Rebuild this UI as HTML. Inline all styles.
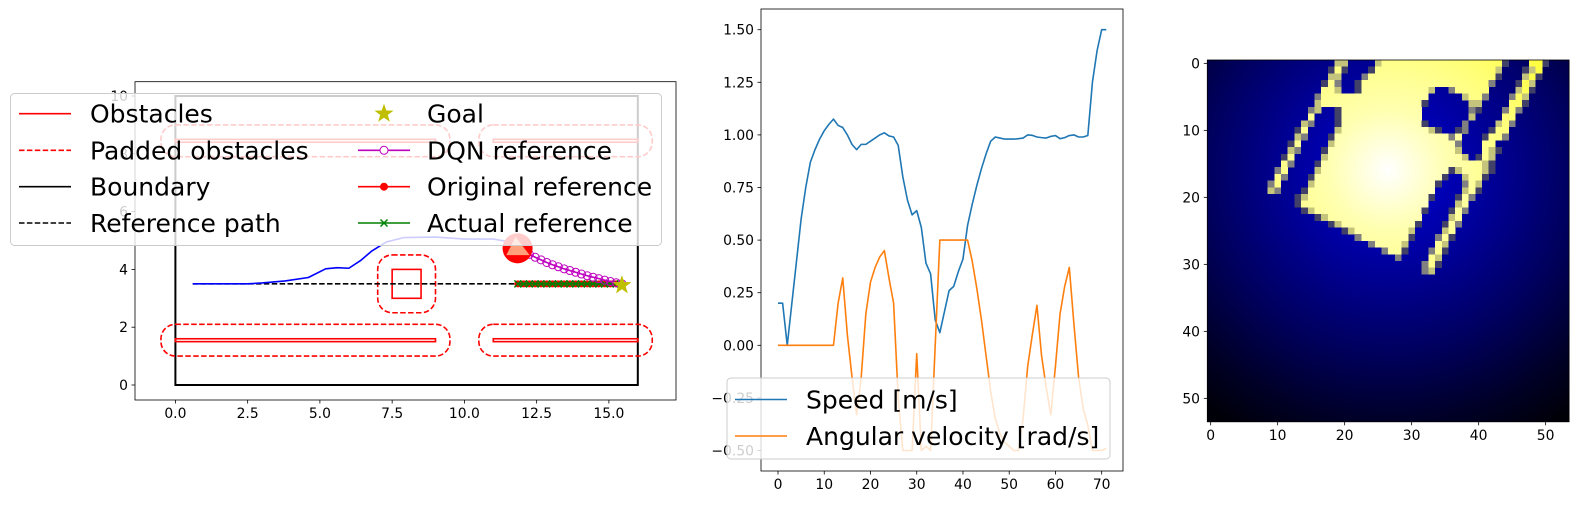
<!DOCTYPE html>
<html><head><meta charset="utf-8">
<style>
html,body{margin:0;padding:0;background:#fff;}
svg{display:block;font-family:"DejaVu Sans","Liberation Sans",sans-serif;}
</style></head>
<body>
<svg id="fig" width="1577" height="505" viewBox="0 0 1577 505" xmlns="http://www.w3.org/2000/svg">
<defs>
<radialGradient id="bgGrad" gradientUnits="userSpaceOnUse" cx="1390" cy="170" r="300">
<stop offset="0" stop-color="#0000d8"/>
<stop offset="0.3" stop-color="#0000a0"/>
<stop offset="0.6" stop-color="#000060"/>
<stop offset="0.85" stop-color="#000025"/>
<stop offset="1" stop-color="#000008"/>
</radialGradient>
<radialGradient id="yGrad" gradientUnits="userSpaceOnUse" cx="1388" cy="170" r="200">
<stop offset="0" stop-color="#ffffff"/>
<stop offset="0.3" stop-color="#ffffb0"/>
<stop offset="0.7" stop-color="#ffff70"/>
<stop offset="1" stop-color="#ffff30"/>
</radialGradient>
<clipPath id="clip1"><rect x="135" y="81.7" width="541" height="318.3"/></clipPath>
</defs>
</svg>
<script>
// ---------- DATA: panel 1 (map) ----------
const obstacleX=[0,11,0,11,7.5];
const obstacleY=[1.5,1.5,8.4,8.4,3];
const obstacleW=[9,5,9,5,1];
const obstacleH=[0.1,0.1,0.1,0.1,1];
const padAmount=0.5;
const pathX=[0.6,2.5,3.0,3.8,4.6,5.2,5.6,6.0,6.4,6.8,7.3,7.9,9.0,10.0,11.0,11.6];
const pathY=[3.5,3.5,3.53,3.6,3.72,4.02,4.06,4.04,4.3,4.64,4.95,5.1,5.12,5.05,5.05,4.95];
const refPathX=[0.6,15.5];
const refPathY=[3.5,3.5];
const robotX=11.84, robotY=4.73, robotR=0.52;
const dqnX=[12.25,12.45,12.65,12.85,13.05,13.25,13.45,13.65,13.85,14.05,14.25,14.45,14.65,14.85,15.05,15.25,15.45];
const dqnY=[4.52,4.42,4.33,4.24,4.16,4.09,4.02,3.96,3.9,3.84,3.78,3.73,3.68,3.63,3.58,3.54,3.5];
const actX=[11.85,12.05,12.25,12.45,12.65,12.85,13.05,13.25,13.45,13.65,13.85,14.05,14.25,14.45,14.65,14.85,15.05,15.25,15.4];
const actY=[3.5,3.5,3.5,3.5,3.5,3.5,3.5,3.5,3.5,3.5,3.5,3.5,3.5,3.5,3.5,3.5,3.5,3.5,3.5];
const goalX=15.45, goalY=3.45;
const p1XTicks=[0,2.5,5,7.5,10,12.5,15];
const p1XLabels=["0.0","2.5","5.0","7.5","10.0","12.5","15.0"];
const p1YTicks=[0,2,4,6,8,10];
// ---------- DATA: panel 2 ----------
const steps=[];for(let i=0;i<=71;i++)steps.push(i);
const speed=[0.2,0.2,0.0,0.2,0.4,0.6,0.75,0.87,0.93,0.98,1.02,1.05,1.075,1.045,1.035,1.0,0.955,0.93,0.955,0.955,0.97,0.985,1.0,1.01,0.995,0.99,0.95,0.8,0.69,0.62,0.64,0.56,0.39,0.34,0.12,0.06,0.16,0.26,0.28,0.35,0.41,0.57,0.67,0.76,0.84,0.91,0.97,0.99,0.985,0.98,0.98,0.98,0.982,0.985,1.0,0.998,0.99,0.987,0.985,0.993,0.997,0.982,0.987,0.997,1.0,0.99,0.99,0.997,1.25,1.4,1.5,1.5];
const angVel=[0,0,0,0,0,0,0,0,0,0,0,0,0,0.2,0.32,0.05,-0.15,-0.33,-0.15,0.15,0.3,0.37,0.42,0.45,0.32,0.2,-0.25,-0.5,-0.5,-0.5,-0.04,-0.5,-0.48,-0.5,0.0,0.5,0.5,0.5,0.5,0.5,0.5,0.5,0.4,0.27,0.12,-0.05,-0.22,-0.35,-0.42,-0.46,-0.48,-0.5,-0.5,-0.35,-0.1,0.05,0.19,-0.05,-0.2,-0.33,-0.1,0.15,0.28,0.37,0.1,-0.15,-0.3,-0.38,-0.5,-0.5,-0.5,-0.49];
const p2XTicks=[0,10,20,30,40,50,60,70];
const p2YTicks=[-0.5,-0.25,0,0.25,0.5,0.75,1.0,1.25,1.5];
const p2YLabels=["\u22120.50","\u22120.25","0.00","0.25","0.50","0.75","1.00","1.25","1.50"];
// ---------- DATA: panel 3 (heatmap runs: row -> "cols type") ----------
const heatRows=[
"19-20k 25k 26-43Y 44d 48-49Y 50d",
"18d 19Y 20d 24d 25-42Y 43k 47d 48k 49Y",
"18-19k 23g 24-42Y 43d 47k 48Y 49d",
"17d 18Y 19g 22d 23-41Y 42g 46d 47Y 48k",
"17-18Y 19k 22d 23-32Y 33k 36g 37-41Y 46k 47Y 48d",
"16g 17-32Y 38k 39-40Y 41g 45g 46Y 47k",
"16k 17-31Y 32d 39-40k 45-46Y 47d",
"15g 16k 19d 20-31Y 39g 40d 44g 45Y 46g",
"15Y 19d 20-31Y 39k 44-45Y",
"14k 15g 19d 20-31Y 32d 38g 43k 44Y 45g",
"13d 14Y 19k 20-32Y 33k 34d 37d 38g 42d 43-44Y",
"13k 14g 18d 19-35Y 36g 37Y 41d 42-43Y 44g",
"12d 13Y 18k 19-36Y 37g 41-42Y",
"12k 13g 17d 18-36Y 37k 41Y 42k 43d",
"11d 12Y 17k 18-37Y 38k 40d 41Y 42k",
"11Y 12g 16d 17-40Y 41k 42d",
"10g 11Y 16k 17-35Y 36d 37k 38-40Y 41k 42d",
"10Y 11g 15d 16-34Y 35d 38k 39-40Y 41d",
"9g 10Y 15k 16-33Y 34d 38g 39Y 40k",
"9k 10g 14d 15-33Y 38k 39Y 40d",
"13d 14k 15-32Y 33d 37d 38Y 39g",
"13d 14-32Y 37k 38Y",
"14d 15k 16-31Y 32d 36d 37Y 38g",
"16d 17k 18-31Y 36k 37Y",
"18d 19k 20-30Y 31d 35d 36Y 37g",
"20d 21k 22-29Y 30k 35k 36Y",
"22g 23-29Y 30d 34g 35Y 36d",
"24g 25-28Y 29k 34Y 35k",
"26g 27-28Y 29d 33g 34Y 35d",
"28g 33Y 34k",
"32g 33Y 34d",
"32g 33k"
];
const p3Ticks=[0,10,20,30,40,50];
</script>
<script>
const NS='http://www.w3.org/2000/svg';
const svg=document.getElementById('fig');
function mk(tag,attrs,parent){const e=document.createElementNS(NS,tag);for(const k in attrs)e.setAttribute(k,attrs[k]);(parent||svg).appendChild(e);return e;}
const TF=13.9;

// ===== Panel 1 =====
const X1=v=>175.4+28.9*v, Y1=v=>385-28.9*v, S1=v=>28.9*v;
const g1=mk('g',{});


const p1=mk('g',{'clip-path':'url(#clip1)'},g1);


let e=mk('rect',{x:X1(0),y:Y1(10),width:S1(16),height:S1(10),fill:'none',stroke:'#000','stroke-width':2},p1);


for(let i=0;i<obstacleX.length;i++){
  e=mk('rect',{x:X1(obstacleX[i]-padAmount),y:Y1(obstacleY[i]+obstacleH[i]+padAmount),width:S1(obstacleW[i]+2*padAmount),height:S1(obstacleH[i]+2*padAmount),rx:S1(padAmount),fill:'none',stroke:'#ff0000','stroke-width':1.6,'stroke-dasharray':'5.5,2.4'},p1);
  
  
  e=mk('rect',{x:X1(obstacleX[i]),y:Y1(obstacleY[i]+obstacleH[i]),width:S1(obstacleW[i]),height:S1(obstacleH[i]),fill:'none',stroke:'#ff0000','stroke-width':1.6},p1);
  
  
}
e=mk('line',{x1:X1(refPathX[0]),y1:Y1(refPathY[0]),x2:X1(refPathX[1]),y2:Y1(refPathY[1]),stroke:'#000','stroke-width':1.6,'stroke-dasharray':'5.5,2.4'},p1);


let d='';for(let i=0;i<pathX.length;i++)d+=(i?'L':'M')+X1(pathX[i])+','+Y1(pathY[i]);
e=mk('path',{d:d,fill:'none',stroke:'#0000ff','stroke-width':1.6,'stroke-linejoin':'round'},p1);


d='';for(let i=0;i<actX.length;i++)d+=(i?'L':'M')+X1(actX[i])+','+Y1(actY[i]);
e=mk('path',{d:d,fill:'none',stroke:'#ff0000','stroke-width':1.6},p1);


for(let i=0;i<actX.length;i++){
  e=mk('circle',{cx:X1(actX[i]),cy:Y1(actY[i]),r:3.5,fill:'#ff0000'},p1);
  
  
}
for(let i=0;i<actX.length;i++){
  const cx=X1(actX[i]),cy=Y1(actY[i]);
  e=mk('path',{d:`M${cx-3.5},${cy-3.5}L${cx+3.5},${cy+3.5}M${cx-3.5},${cy+3.5}L${cx+3.5},${cy-3.5}`,stroke:'#008000','stroke-width':1.5},p1);
  
  
}
d='';for(let i=0;i<actX.length;i++)d+=(i?'L':'M')+X1(actX[i])+','+Y1(actY[i]);
e=mk('path',{d:d,fill:'none',stroke:'#008000','stroke-width':1.6},p1);


d='';for(let i=0;i<dqnX.length;i++)d+=(i?'L':'M')+X1(dqnX[i])+','+Y1(dqnY[i]);
e=mk('path',{d:d,fill:'none',stroke:'#bf00bf','stroke-width':1.6},p1);


for(let i=0;i<dqnX.length;i++){
  e=mk('circle',{cx:X1(dqnX[i]),cy:Y1(dqnY[i]),r:4,fill:'none',stroke:'#bf00bf','stroke-width':1},p1);
  
  
}
function starPath(cx,cy,R){let s='';for(let k=0;k<10;k++){const r=k%2?R*0.4:R;const a=-Math.PI/2+k*Math.PI/5;s+=(k?'L':'M')+(cx+r*Math.cos(a)).toFixed(2)+','+(cy+r*Math.sin(a)).toFixed(2);}return s+'Z';}
e=mk('path',{d:starPath(X1(goalX),Y1(goalY),10),fill:'#bfbf00'},p1);


e=mk('circle',{cx:X1(robotX),cy:Y1(robotY),r:S1(robotR),fill:'#ff0000'},p1);


{const cx=X1(robotX),cy=Y1(robotY),r=S1(robotR);
e=mk('path',{d:`M${cx-2},${cy-r*0.75}L${cx+r*0.8},${cy+r*0.45}L${cx-r*0.75},${cy+r*0.45}Z`,fill:'#ffa07a'},p1);

}
e=mk('rect',{x:135,y:81.7,width:541,height:318.3,fill:'none',stroke:'#000','stroke-width':0.8},g1);


for(let i=0;i<p1XTicks.length;i++){
  const x=X1(p1XTicks[i]);
  e=mk('line',{x1:x,y1:400,x2:x,y2:403.5,stroke:'#000','stroke-width':0.8},g1);
  
  
  e=mk('text',{x:x,y:418,'font-size':TF,'text-anchor':'middle',fill:'#000'},g1);
  e.textContent=p1XLabels[i];
  
  
}
for(let i=0;i<p1YTicks.length;i++){
  const y=Y1(p1YTicks[i]);
  e=mk('line',{x1:131.5,y1:y,x2:135,y2:y,stroke:'#000','stroke-width':0.8},g1);
  
  
  e=mk('text',{x:128,y:y+5,'font-size':TF,'text-anchor':'end',fill:'#000'},g1);
  e.textContent=String(p1YTicks[i]);
  
  
}

// ===== Panel 2 =====
const X2=v=>778+4.624*v, Y2=v=>345.3-210.4*v;
const g2=mk('g',{});


d='';for(let i=0;i<steps.length;i++)d+=(i?'L':'M')+X2(steps[i]).toFixed(2)+','+Y2(speed[i]).toFixed(2);
e=mk('path',{d:d,fill:'none',stroke:'#1f77b4','stroke-width':1.6,'stroke-linejoin':'round'},g2);


d='';for(let i=0;i<steps.length;i++)d+=(i?'L':'M')+X2(steps[i]).toFixed(2)+','+Y2(angVel[i]).toFixed(2);
e=mk('path',{d:d,fill:'none',stroke:'#ff7f0e','stroke-width':1.6,'stroke-linejoin':'round'},g2);


e=mk('rect',{x:761,y:9,width:362,height:462,fill:'none',stroke:'#000','stroke-width':0.8},g2);


for(let i=0;i<p2XTicks.length;i++){
  const x=X2(p2XTicks[i]);
  e=mk('line',{x1:x,y1:471,x2:x,y2:474.5,stroke:'#000','stroke-width':0.8},g2);
  
  
  e=mk('text',{x:x,y:489,'font-size':TF,'text-anchor':'middle',fill:'#000'},g2);
  e.textContent=String(p2XTicks[i]);
  
  
}
for(let i=0;i<p2YTicks.length;i++){
  const y=Y2(p2YTicks[i]);
  e=mk('line',{x1:757.5,y1:y,x2:761,y2:y,stroke:'#000','stroke-width':0.8},g2);
  
  
  e=mk('text',{x:754,y:y+5,'font-size':TF,'text-anchor':'end',fill:'#000'},g2);
  e.textContent=p2YLabels[i];
  
  
}

// ===== Panel 3 =====
const CX=c=>1207.3+6.7*c, CY=r=>60+6.7*r;
const g3=mk('g',{});


e=mk('rect',{x:1207.3,y:60,width:361.8,height:361.8,fill:'url(#bgGrad)'},g3);


const cellFill={Y:'url(#yGrad)',k:'#c4c47c',g:'#808080',d:'#404068'};
for(let r=0;r<heatRows.length;r++){
  heatRows[r].split(' ').forEach(tok=>{
    const type=tok.slice(-1);const rng=tok.slice(0,-1).split('-').map(Number);
    const c0=rng[0],c1=rng.length>1?rng[1]:rng[0];
    for(let c=c0;c<=c1;c++){
      const cell=mk('rect',{x:CX(c),y:CY(r),width:6.8,height:6.8,fill:cellFill[type],'shape-rendering':'crispEdges'},g3);
      
      
    }
  });
}
e=mk('rect',{x:1207.3,y:60,width:361.8,height:361.8,fill:'none',stroke:'#000','stroke-width':0.8},g3);


for(let i=0;i<p3Ticks.length;i++){
  const x=CX(p3Ticks[i])+3.35,y=CY(p3Ticks[i])+3.35;
  e=mk('line',{x1:x,y1:421.8,x2:x,y2:425.3,stroke:'#000','stroke-width':0.8},g3);
  
  
  e=mk('text',{x:x,y:440,'font-size':TF,'text-anchor':'middle',fill:'#000'},g3);
  e.textContent=String(p3Ticks[i]);
  
  
  e=mk('line',{x1:1203.8,y1:y,x2:1207.3,y2:y,stroke:'#000','stroke-width':0.8},g3);
  
  
  e=mk('text',{x:1200,y:y+5,'font-size':TF,'text-anchor':'end',fill:'#000'},g3);
  e.textContent=String(p3Ticks[i]);
  
  
}

// ===== Legend panel 1 =====
const L1=mk('g',{});


e=mk('rect',{x:10.5,y:93.5,width:651,height:152,rx:4,fill:'#fff','fill-opacity':0.8,stroke:'#cccccc','stroke-width':1},L1);


const rowsY=[113.7,150.3,186.7,223];
const col1=[['Obstacles','#ff0000',''],['Padded obstacles','#ff0000','5.5,2.4'],['Boundary','#000',''],['Reference path','#000','5.5,2.4']];
col1.forEach((it,i)=>{
  const l=mk('line',{x1:19,y1:rowsY[i],x2:71,y2:rowsY[i],stroke:it[1],'stroke-width':1.6,'stroke-dasharray':it[2]||'none'},L1);
  
  
  const t=mk('text',{x:90,y:rowsY[i]+9,'font-size':25,fill:'#000'},L1);
  t.textContent=it[0];
  
  
});
const col2=['Goal','DQN reference','Original reference','Actual reference'];
col2.forEach((lab,i)=>{
  const y=rowsY[i];
  if(i===0){
    const s=mk('path',{d:starPath(384,y,10),fill:'#bfbf00'},L1);
    
    
  } else {
    const col=i===1?'#bf00bf':(i===2?'#ff0000':'#008000');
    const l=mk('line',{x1:358,y1:y,x2:410,y2:y,stroke:col,'stroke-width':1.6},L1);
    
    
    let m;
    if(i===1)m=mk('circle',{cx:384,cy:y,r:4,fill:'#fff',stroke:col,'stroke-width':1},L1);
    else if(i===2)m=mk('circle',{cx:384,cy:y,r:4,fill:col},L1);
    else m=mk('path',{d:`M380.5,${y-3.5}L387.5,${y+3.5}M380.5,${y+3.5}L387.5,${y-3.5}`,stroke:col,'stroke-width':1.5},L1);
    
    
  }
  const t=mk('text',{x:427,y:y+9,'font-size':25,fill:'#000'},L1);
  t.textContent=lab;
  
  
});

// ===== Legend panel 2 =====
const L2=mk('g',{});


e=mk('rect',{x:727,y:378,width:383,height:81,rx:4,fill:'#fff','fill-opacity':0.8,stroke:'#cccccc','stroke-width':1},L2);


[['Speed [m/s]','#1f77b4',399.5],['Angular velocity [rad/s]','#ff7f0e',436]].forEach(it=>{
  const l=mk('line',{x1:735,y1:it[2],x2:787,y2:it[2],stroke:it[1],'stroke-width':1.6},L2);
  
  
  const t=mk('text',{x:806,y:it[2]+9,'font-size':25,fill:'#000'},L2);
  t.textContent=it[0];
  
  
});
</script>
</body></html>
